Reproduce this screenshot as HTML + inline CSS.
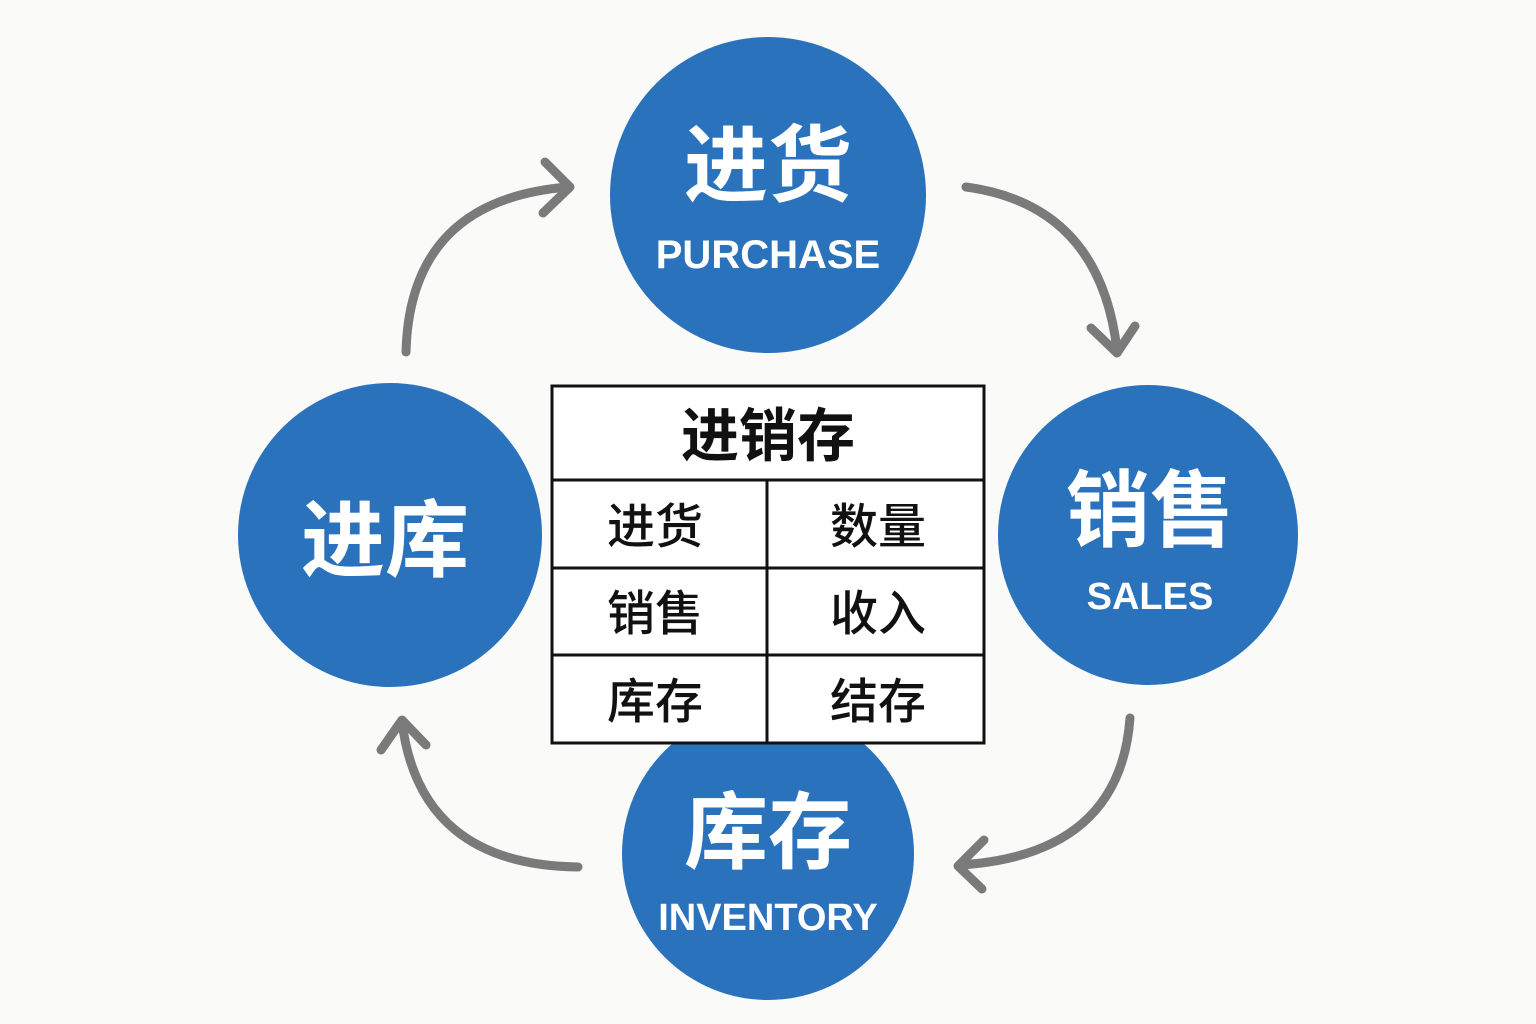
<!DOCTYPE html>
<html><head><meta charset="utf-8"><style>
html,body{margin:0;padding:0;background:#fafaf8;}
svg{display:block}
.cn{font-family:"Liberation Sans","Noto Sans CJK SC",sans-serif;font-weight:700;}
</style></head><body>
<svg width="1536" height="1024" viewBox="0 0 1536 1024" xmlns="http://www.w3.org/2000/svg">
<rect width="1536" height="1024" fill="#fafaf8"/>
<g fill="none" stroke="#7a7a7a" stroke-width="9" stroke-linecap="round" stroke-linejoin="round">
  <path d="M406 352 Q410 200 568 187"/>
  <path d="M545 162 L570 187 L543 213"/>
  <path d="M966 187 Q1100 205 1117 350"/>
  <path d="M1091 328 L1117 353 L1135 326"/>
  <path d="M1130 718 Q1120 855 960 865"/>
  <path d="M984 840 L958 866 L982 889"/>
  <path d="M578 867 Q420 865 402 722"/>
  <path d="M381 750 L402 720 L426 745"/>
</g>
<g fill="#2a72bc">
  <circle cx="768" cy="195" r="158"/>
  <circle cx="1148" cy="535" r="150"/>
  <circle cx="390" cy="535" r="152"/>
  <circle cx="768" cy="854" r="146"/>
</g>
<g class="cn" fill="#fff" text-anchor="middle">
  <text x="768" y="195" font-size="84">进货</text>
  <text x="768" y="268" font-size="40">PURCHASE</text>
  <text x="1150" y="540" font-size="84">销售</text>
  <text x="1150" y="609" font-size="38">SALES</text>
  <text x="385" y="570" font-size="84">进库</text>
  <text x="768" y="862" font-size="84">库存</text>
  <text x="768" y="930" font-size="38">INVENTORY</text>
</g>
<g stroke="#111" stroke-width="3" fill="none">
  <rect x="552" y="386" width="432" height="357" fill="#fff"/>
  <line x1="552" y1="480" x2="984" y2="480"/>
  <line x1="552" y1="568" x2="984" y2="568"/>
  <line x1="552" y1="655" x2="984" y2="655"/>
  <line x1="767" y1="480" x2="767" y2="743"/>
</g>
<g class="cn" fill="#111" text-anchor="middle">
  <text x="768" y="456" font-size="58">进销存</text>
  <g font-size="48" font-weight="500">
    <text x="655" y="543">进货</text>
    <text x="878" y="543">数量</text>
    <text x="655" y="630">销售</text>
    <text x="878" y="630">收入</text>
    <text x="655" y="718">库存</text>
    <text x="878" y="718">结存</text>
  </g>
</g>
</svg>
</body></html>
